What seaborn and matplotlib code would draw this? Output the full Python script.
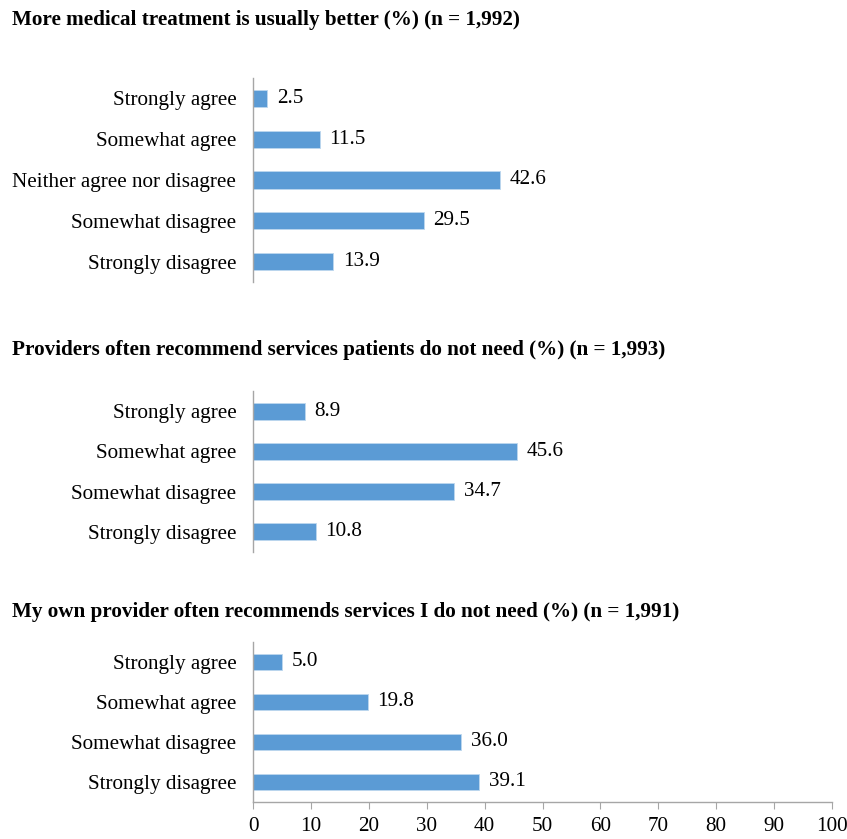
import matplotlib
matplotlib.use("Agg")
import matplotlib.pyplot as plt
import seaborn as sns
import pandas as pd

sns.set_style("white")
plt.rcParams['font.family'] = ['Liberation Serif', 'DejaVu Serif']
plt.rcParams['text.color'] = 'black'
plt.rcParams['xtick.color'] = 'black'
plt.rcParams['ytick.color'] = 'black'
plt.rcParams['axes.labelcolor'] = 'black'

titles = [
    "More medical treatment is usually better (%) (n = 1,992)",
    "Providers often recommend services patients do not need (%) (n = 1,993)",
    "My own provider often recommends services I do not need (%) (n = 1,991)",
]
cats1 = ["Strongly agree", "Somewhat agree", "Neither agree nor disagree",
         "Somewhat disagree", "Strongly disagree"]
vals1 = [2.5, 11.5, 42.6, 29.5, 13.9]
cats2 = ["Strongly agree", "Somewhat agree", "Somewhat disagree", "Strongly disagree"]
vals2 = [8.9, 45.6, 34.7, 10.8]
cats3 = ["Strongly agree", "Somewhat agree", "Somewhat disagree", "Strongly disagree"]
vals3 = [5.0, 19.8, 36.0, 39.1]
xticks = [0, 10, 20, 30, 40, 50, 60, 70, 80, 90, 100]

W, H = 847, 839
fig = plt.figure(figsize=(W / 100, H / 100), dpi=100)

bar_color = "#5B9BD5"
axis_color = "#A6A6A6"
fs = 15.2

# (top_px, bottom_px, title_y_px)
panels = [
    (cats1, vals1, titles[0], 78, 282, 20),
    (cats2, vals2, titles[1], 391, 552, 350),
    (cats3, vals3, titles[2], 642, 802, 612),
]
left_px, right_px = 253, 832

for i, (cats, vals, title, top, bot, ty) in enumerate(panels):
    ax = fig.add_axes([left_px / W, 1 - bot / H, (right_px - left_px) / W, (bot - top) / H])
    df = pd.DataFrame({"cat": cats, "val": vals})
    sns.barplot(data=df, x="val", y="cat", orient="h", color=bar_color,
                width=0.42, ax=ax, saturation=1, edgecolor="#BDD7EE", linewidth=0.6)
    ax.bar_label(ax.containers[0], fmt="%.1f", padding=7, fontsize=fs, color="black")
    ax.set_xlim(0, 100)
    ax.set_ylim(len(cats) - 0.5, -0.5)
    ax.set_xlabel("")
    ax.set_ylabel("")
    for s in ["top", "right"]:
        ax.spines[s].set_visible(False)
    ax.spines["left"].set_color(axis_color)
    ax.spines["left"].set_linewidth(1.0)
    ax.tick_params(axis="y", length=0, labelsize=fs, pad=12)
    if i < 2:
        ax.spines["bottom"].set_visible(False)
        ax.set_xticks([])
    else:
        ax.spines["bottom"].set_color(axis_color)
        ax.spines["bottom"].set_linewidth(1.0)
        ax.set_xticks(xticks)
        ax.set_xticklabels([str(t) for t in xticks])
        ax.tick_params(axis="x", direction="out", length=5, color=axis_color,
                       labelsize=fs, pad=6, bottom=True)
    fig.text(12 / W, 1 - ty / H, title, fontsize=15.2, fontweight="bold",
             va="center", ha="left")

fig.savefig("out.png", dpi=100)
